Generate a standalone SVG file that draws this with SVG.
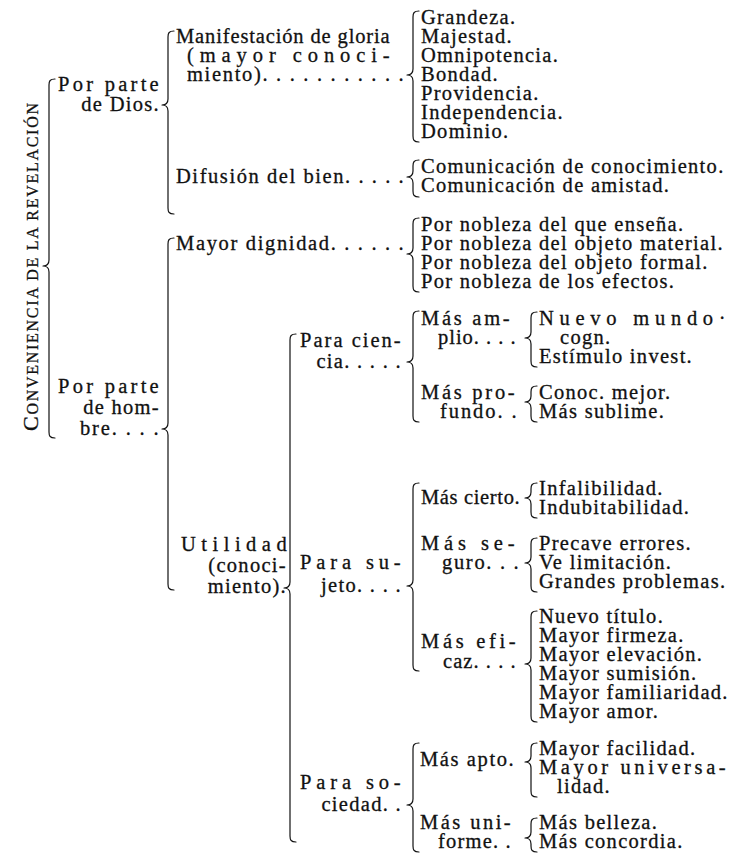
<svg xmlns="http://www.w3.org/2000/svg" width="735" height="865" viewBox="0 0 735 865">
<style>
text{font-family:"Liberation Serif","Times New Roman",serif;font-size:20.5px;fill:#111;stroke:#111;stroke-width:0.3px;letter-spacing:1.3px}
.r{text-anchor:end}
.cap{font-size:16px}
.b{fill:none;stroke:#111;stroke-width:1.2;stroke-linecap:round;stroke-linejoin:round}
</style>
<rect width="735" height="865" fill="#fff"/>

<g id="connectors">
<path class="b" d="M55 79 C50 79 49 81 49 85 L49 260 C49 264 47 266 43 266 C47 266 49 268 49 272 L49 432 C49 436 50 438 55 438"/>
<path class="b" d="M174 31 C169 31 168 33 168 37 L168 99 C168 103 166 105 162 105 C166 105 168 107 168 111 L168 208 C168 212 169 214 174 214"/>
<path class="b" d="M174 238 C169 238 168 240 168 244 L168 423 C168 427 166 429 162 429 C166 429 168 431 168 435 L168 584 C168 588 169 590 174 590"/>
<path class="b" d="M419 11 C414 11 413 13 413 17 L413 69 C413 73 411 75 407 75 C411 75 413 77 413 81 L413 136 C413 140 414 142 419 142"/>
<path class="b" d="M419 160 C414 160 413 162 413 166 L413 171 C413 175 411 177 407 177 C411 177 413 179 413 183 L413 191 C413 195 414 197 419 197"/>
<path class="b" d="M419 218 C414 218 413 220 413 224 L413 248 C413 252 411 254 407 254 C411 254 413 256 413 260 L413 286 C413 290 414 292 419 292"/>
<path class="b" d="M419 311 C414 311 413 313 413 317 L413 356 C413 360 411 362 407 362 C411 362 413 364 413 368 L413 416 C413 420 414 422 419 422"/>
<path class="b" d="M537 312 C532 312 531 314 531 318 L531 332 C531 336 529 338 525 338 C529 338 531 340 531 344 L531 361 C531 365 532 367 537 367"/>
<path class="b" d="M537 386 C532 386 531 388 531 392 L531 396 C531 400 529 402 525 402 C529 402 531 404 531 408 L531 416 C531 420 532 422 537 422"/>
<path class="b" d="M296 334 C291 334 290 336 290 340 L290 582 C290 586 288 588 284 588 C288 588 290 590 290 594 L290 836 C290 840 291 842 296 842"/>
<path class="b" d="M419 483 C414 483 413 485 413 489 L413 580 C413 584 411 586 407 586 C411 586 413 588 413 592 L413 665 C413 669 414 671 419 671"/>
<path class="b" d="M537 483 C532 483 531 485 531 489 L531 492 C531 496 529 498 525 498 C529 498 531 500 531 504 L531 512 C531 516 532 518 537 518"/>
<path class="b" d="M537 538 C532 538 531 540 531 544 L531 557 C531 561 529 563 525 563 C529 563 531 565 531 569 L531 586 C531 590 532 592 537 592"/>
<path class="b" d="M537 611 C532 611 531 613 531 617 L531 658 C531 662 529 664 525 664 C529 664 531 666 531 670 L531 716 C531 720 532 722 537 722"/>
<path class="b" d="M419 743 C414 743 413 745 413 749 L413 799 C413 803 411 805 407 805 C411 805 413 807 413 811 L413 846 C413 850 414 852 419 852"/>
<path class="b" d="M537 743 C532 743 531 745 531 749 L531 756 C531 760 529 762 525 762 C529 762 531 764 531 768 L531 791 C531 795 532 797 537 797"/>
<path class="b" d="M537 818 C532 818 531 820 531 824 L531 832 C531 836 529 838 525 838 C529 838 531 840 531 844 L531 846 C531 850 532 852 537 852"/>
</g>

<g id="n-title">
<text transform="translate(38,267) rotate(-90)" text-anchor="middle" textLength="328" lengthAdjust="spacing" style="letter-spacing:0;font-size:22px">C<tspan class="cap">ONVENIENCIA DE LA REVELACIÓN</tspan></text>
</g>

<g id="n-dios">
<text x="58" y="91" textLength="102" lengthAdjust="spacing">Por parte</text>
<text x="160" y="111" class="r">de Dios.</text>
</g>

<g id="n-hombre">
<text x="58" y="393" textLength="102" lengthAdjust="spacing">Por parte</text>
<text x="160" y="414" class="r">de hom-</text>
<text x="80" y="435" textLength="80" lengthAdjust="spacing">bre. . . .</text>
</g>

<g id="n-manifestacion">
<text x="176" y="43" textLength="215" lengthAdjust="spacing">Manifestación de gloria</text>
<text x="187" y="62" textLength="204" lengthAdjust="spacing">(mayor conoci-</text>
<text x="187" y="81" textLength="218" lengthAdjust="spacing">miento). . . . . . . . . . .</text>
</g>

<g id="n-atributos">
<text x="421" y="24">Grandeza.</text>
<text x="421" y="43">Majestad.</text>
<text x="421" y="62">Omnipotencia.</text>
<text x="421" y="81">Bondad.</text>
<text x="421" y="100">Providencia.</text>
<text x="421" y="119">Independencia.</text>
<text x="421" y="138">Dominio.</text>
</g>

<g id="n-difusion">
<text x="176" y="183" textLength="229" lengthAdjust="spacing">Difusión del bien. . . . .</text>
</g>
<g id="n-comunicacion">
<text x="421" y="173">Comunicación de conocimiento.</text>
<text x="421" y="192">Comunicación de amistad.</text>
</g>

<g id="n-dignidad">
<text x="176" y="250" textLength="229" lengthAdjust="spacing">Mayor dignidad. . . . . .</text>
</g>
<g id="n-nobleza">
<text x="421" y="231">Por nobleza del que enseña.</text>
<text x="421" y="250">Por nobleza del objeto material.</text>
<text x="421" y="269">Por nobleza del objeto formal.</text>
<text x="421" y="288">Por nobleza de los efectos.</text>
</g>

<g id="n-utilidad">
<text x="181" y="551" textLength="107" lengthAdjust="spacing">Utilidad</text>
<text x="287" y="572" class="r">(conoci-</text>
<text x="287" y="593" class="r">miento).</text>
</g>

<g id="n-ciencia">
<text x="300" y="347" textLength="102" lengthAdjust="spacing">Para cien-</text>
<text x="402" y="368" class="r">cia. . . . .</text>
</g>
<g id="n-amplio">
<text x="421" y="325" textLength="90" lengthAdjust="spacing">Más am-</text>
<text x="438" y="344" textLength="79" lengthAdjust="spacing">plio. . . .</text>
</g>
<g id="n-amplio-items">
<text x="539" y="325" textLength="188" lengthAdjust="spacing">Nuevo mundo·</text>
<text x="560" y="344">cogn.</text>
<text x="539" y="363">Estímulo invest.</text>
</g>
<g id="n-profundo">
<text x="421" y="399" textLength="95" lengthAdjust="spacing">Más pro-</text>
<text x="440" y="418" textLength="78" lengthAdjust="spacing">fundo. .</text>
</g>
<g id="n-profundo-items">
<text x="539" y="399">Conoc. mejor.</text>
<text x="539" y="418">Más sublime.</text>
</g>

<g id="n-sujeto">
<text x="300" y="569" textLength="102" lengthAdjust="spacing">Para su-</text>
<text x="402" y="592" class="r">jeto. . . .</text>
</g>
<g id="n-cierto">
<text x="421" y="504" textLength="100" lengthAdjust="spacing">Más cierto.</text>
</g>
<g id="n-cierto-items">
<text x="539" y="495">Infalibilidad.</text>
<text x="539" y="514">Indubitabilidad.</text>
</g>
<g id="n-seguro">
<text x="421" y="550" textLength="95" lengthAdjust="spacing">Más se-</text>
<text x="442" y="569" textLength="78" lengthAdjust="spacing">guro. . .</text>
</g>
<g id="n-seguro-items">
<text x="539" y="550">Precave errores.</text>
<text x="539" y="569">Ve limitación.</text>
<text x="539" y="588">Grandes problemas.</text>
</g>
<g id="n-eficaz">
<text x="421" y="648" textLength="96" lengthAdjust="spacing">Más efi-</text>
<text x="443" y="668" textLength="74" lengthAdjust="spacing">caz. . . .</text>
</g>
<g id="n-eficaz-items">
<text x="539" y="623">Nuevo título.</text>
<text x="539" y="642">Mayor firmeza.</text>
<text x="539" y="661">Mayor elevación.</text>
<text x="539" y="680">Mayor sumisión.</text>
<text x="539" y="699">Mayor familiaridad.</text>
<text x="539" y="718">Mayor amor.</text>
</g>

<g id="n-sociedad">
<text x="300" y="789" textLength="102" lengthAdjust="spacing">Para so-</text>
<text x="402" y="811" class="r">ciedad. .</text>
</g>
<g id="n-apto">
<text x="420" y="766" textLength="95" lengthAdjust="spacing">Más apto.</text>
</g>
<g id="n-apto-items">
<text x="539" y="755">Mayor facilidad.</text>
<text x="539" y="774" textLength="188" lengthAdjust="spacing">Mayor universa-</text>
<text x="557" y="793">lidad.</text>
</g>
<g id="n-uniforme">
<text x="420" y="829" textLength="92" lengthAdjust="spacing">Más uni-</text>
<text x="438" y="848" textLength="74" lengthAdjust="spacing">forme. .</text>
</g>
<g id="n-uniforme-items">
<text x="539" y="829">Más belleza.</text>
<text x="539" y="848">Más concordia.</text>
</g>
</svg>
